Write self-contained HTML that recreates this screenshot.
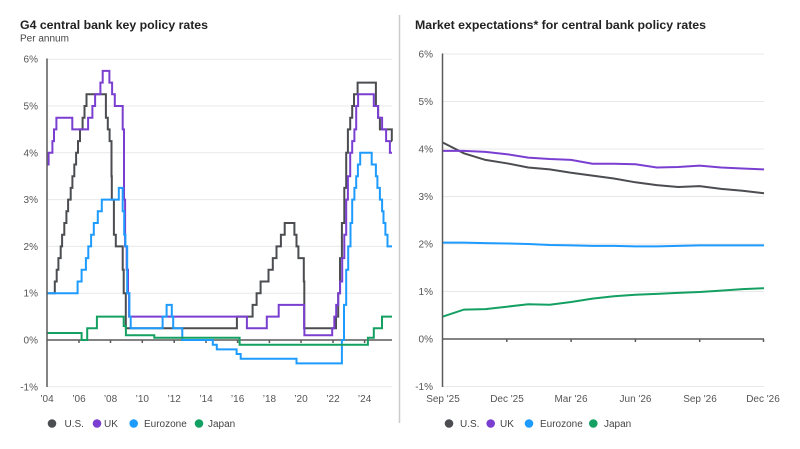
<!DOCTYPE html>
<html><head><meta charset="utf-8"><style>
html,body{margin:0;padding:0;background:#fff;}
svg{display:block;font-family:"Liberation Sans",Arial,sans-serif;}
.t{font-size:12.3px;font-weight:bold;fill:#222;}
.s{font-size:10px;fill:#444;}
.yl{font-size:10px;fill:#555;text-anchor:end;}
.xl{font-size:10px;fill:#555;text-anchor:middle;}
.lg{font-size:10px;fill:#444;}
.g{stroke:#e8e8e8;stroke-width:1;}
.ax{stroke:#5a5a5a;stroke-width:1.5;fill:none;}
.ln{fill:none;stroke-width:2;stroke-linejoin:miter;}
</style></head><body>
<svg width="800" height="449" viewBox="0 0 800 449" xmlns="http://www.w3.org/2000/svg">
<rect width="800" height="449" fill="#fff"/>
<!-- LEFT CHART -->
<text class="t" x="20" y="29" textLength="188" lengthAdjust="spacingAndGlyphs">G4 central bank key policy rates</text>
<text class="s" x="20" y="41.5">Per annum</text>
<g>
<line class="g" x1="47" y1="59.2" x2="392" y2="59.2"/>
<line class="g" x1="47" y1="106" x2="392" y2="106"/>
<line class="g" x1="47" y1="152.8" x2="392" y2="152.8"/>
<line class="g" x1="47" y1="199.6" x2="392" y2="199.6"/>
<line class="g" x1="47" y1="246.4" x2="392" y2="246.4"/>
<line class="g" x1="47" y1="293.2" x2="392" y2="293.2"/>
<line class="g" x1="47" y1="386.8" x2="392" y2="386.8"/>
</g>
<text class="yl" x="38" y="62.7">6%</text>
<text class="yl" x="38" y="109.5">5%</text>
<text class="yl" x="38" y="156.3">4%</text>
<text class="yl" x="38" y="203.1">3%</text>
<text class="yl" x="38" y="249.9">2%</text>
<text class="yl" x="38" y="296.7">1%</text>
<text class="yl" x="38" y="343.5">0%</text>
<text class="yl" x="38" y="390.3">-1%</text>
<line class="ax" x1="47" y1="340" x2="392" y2="340"/>
<g class="ax" stroke-width="1">
<line x1="79" y1="340" x2="79" y2="343"/><line x1="110.5" y1="340" x2="110.5" y2="343"/><line x1="142.3" y1="340" x2="142.3" y2="343"/><line x1="174.2" y1="340" x2="174.2" y2="343"/><line x1="206" y1="340" x2="206" y2="343"/><line x1="237.6" y1="340" x2="237.6" y2="343"/><line x1="269.4" y1="340" x2="269.4" y2="343"/><line x1="301" y1="340" x2="301" y2="343"/><line x1="333" y1="340" x2="333" y2="343"/><line x1="364.6" y1="340" x2="364.6" y2="343"/>
</g>
<path class="ln" stroke="#4b4d51" d="M47,293.2 H54.8 V281.5 H56.7 V269.8 H58.4 V258.1 H60.7 V246.4 H62.1 V234.7 H64.3 V223 H66.4 V211.3 H68.1 V199.6 H70.7 V187.9 H72.4 V176.2 H74.3 V164.5 H76.1 V152.8 H78 V141.1 H80 V129.4 H82.6 V117.7 H84.5 V106 H86.5 V94.3 H105.9 V117.7 H107.8 V129.4 H109.6 V141.1 H111.5 V176.2 H111.8 V199.6 H113.9 V234.7 H115.8 V246.4 H122.7 V269.8 H123.7 V293.2 H125.8 V328.3 H236.9 V316.6 H252.6 V304.9 H256.6 V293.2 H260.6 V281.5 H268.5 V269.8 H272.8 V258.1 H276.5 V246.4 H280.9 V234.7 H284.7 V223 H294.4 V234.7 H296.5 V246.4 H298.4 V258.1 H303.8 V281.5 H304.3 V328.3 H336 V316.6 H338.2 V293.2 H340 V258.1 H341.9 V223 H344.3 V187.9 H346.2 V152.8 H347.9 V129.4 H350.2 V117.7 H352.2 V106 H354 V94.3 H357.6 V82.6 H375.9 V106 H378.1 V117.7 H379.9 V129.4 H391.8 V141.1 H392"/>
<path class="ln" stroke="#7a3fd1" d="M47,164.5 H48.6 V152.8 H52.4 V141.1 H54 V129.4 H56.4 V117.7 H72.3 V129.4 H88.1 V117.7 H92.4 V106 H95.1 V94.3 H100.4 V82.6 H102.7 V70.9 H109.4 V82.6 H112.1 V94.3 H114.8 V106 H122.7 V129.4 H124 V199.6 H125.1 V246.4 H126.7 V269.8 H128 V293.2 H129.1 V316.6 H246.9 V328.3 H266.8 V316.6 H278.7 V304.9 H304.1 V328.3 H304.4 V335.3 H332.2 V328.3 H334.3 V316.6 H336.2 V304.9 H338.2 V293.2 H340.1 V281.5 H342.2 V258.1 H344.3 V234.7 H346.2 V199.6 H347.9 V176.2 H350.2 V152.8 H352.2 V141.1 H354.4 V129.4 H356.2 V106 H358.1 V94.3 H373.8 V106 H378.1 V117.7 H382.1 V129.4 H386.1 V141.1 H389.9 V152.8 H392"/>
<path class="ln" stroke="#1e9bff" d="M47,293.2 H77.6 V281.5 H81.6 V269.8 H85.9 V258.1 H88.3 V246.4 H91.1 V234.7 H93.8 V223 H97.8 V211.3 H101.8 V199.6 H118.8 V187.9 H122.7 V211.3 H124.2 V234.7 H125.4 V246.4 H127.2 V293.2 H129.4 V316.6 H130.7 V328.3 H162.6 V316.6 H166.6 V304.9 H171.8 V316.6 H173.2 V328.3 H182.3 V340 H212.8 V344.7 H216.8 V349.4 H236.6 V354 H240.7 V358.7 H296.5 V363.4 H341.9 V340 H344 V304.9 H346.2 V269.8 H348.2 V246.4 H350.5 V223 H352.2 V199.6 H354.4 V187.9 H356.2 V176.2 H357.9 V164.5 H360.2 V152.8 H371.7 V164.5 H375.9 V176.2 H377.4 V187.9 H379.9 V199.6 H382.1 V211.3 H383.5 V223 H385.4 V234.7 H387.5 V246.4 H392"/>
<path class="ln" stroke="#14a062" d="M47,333 H81.6 V340 H87.2 V328.3 H96.9 V316.6 H123.7 V326 H125.9 V335.3 H154.3 V337.7 H239.6 V344.7 H367.9 V337.7 H373.8 V328.3 H382 V316.6 H392"/>
<line class="ax" x1="47" y1="58.5" x2="47" y2="387"/>
<text class="xl" x="47" y="402">’04</text>
<text class="xl" x="79" y="402">’06</text>
<text class="xl" x="110.5" y="402">’08</text>
<text class="xl" x="142.3" y="402">’10</text>
<text class="xl" x="174.2" y="402">’12</text>
<text class="xl" x="206" y="402">’14</text>
<text class="xl" x="237.6" y="402">’16</text>
<text class="xl" x="269.4" y="402">’18</text>
<text class="xl" x="301" y="402">’20</text>
<text class="xl" x="333" y="402">’22</text>
<text class="xl" x="364.6" y="402">’24</text>
<circle cx="52" cy="423.5" r="4.3" fill="#4b4d51"/><text class="lg" x="64.5" y="427">U.S.</text>
<circle cx="97" cy="423.5" r="4.3" fill="#7a3fd1"/><text class="lg" x="104" y="427">UK</text>
<circle cx="133.7" cy="423.5" r="4.3" fill="#1e9bff"/><text class="lg" x="144" y="427">Eurozone</text>
<circle cx="199" cy="423.5" r="4.3" fill="#14a062"/><text class="lg" x="208" y="427">Japan</text>
<!-- separator -->
<line x1="399.5" y1="15" x2="399.5" y2="423" stroke="#cccccc" stroke-width="1.5"/>
<!-- RIGHT CHART -->
<text class="t" x="415" y="29" textLength="291" lengthAdjust="spacingAndGlyphs">Market expectations* for central bank policy rates</text>
<g>
<line class="g" x1="442" y1="54" x2="764" y2="54"/>
<line class="g" x1="442" y1="101.5" x2="764" y2="101.5"/>
<line class="g" x1="442" y1="149" x2="764" y2="149"/>
<line class="g" x1="442" y1="196.5" x2="764" y2="196.5"/>
<line class="g" x1="442" y1="244" x2="764" y2="244"/>
<line class="g" x1="442" y1="291.5" x2="764" y2="291.5"/>
<line class="g" x1="442" y1="386.5" x2="764" y2="386.5"/>
</g>
<text class="yl" x="433" y="57.5">6%</text>
<text class="yl" x="433" y="105">5%</text>
<text class="yl" x="433" y="152.5">4%</text>
<text class="yl" x="433" y="200">3%</text>
<text class="yl" x="433" y="247.5">2%</text>
<text class="yl" x="433" y="295">1%</text>
<text class="yl" x="433" y="342.5">0%</text>
<text class="yl" x="433" y="390">-1%</text>
<line class="ax" x1="442" y1="339" x2="764" y2="339"/>
<g class="ax" stroke-width="1">
<line x1="506.8" y1="339" x2="506.8" y2="342"/><line x1="571.1" y1="339" x2="571.1" y2="342"/><line x1="635.4" y1="339" x2="635.4" y2="342"/><line x1="699.7" y1="339" x2="699.7" y2="342"/><line x1="763.5" y1="339" x2="763.5" y2="342"/>
</g>
<polyline class="ln" stroke="#4b4d51" points="442.5,142.4 463.9,153.3 485.4,159.9 506.8,163.3 528.2,167.5 549.7,169.4 571.1,172.8 592.5,175.6 613.9,178.5 635.4,182.3 656.8,185.1 678.2,187 699.7,186.1 721.1,188.9 742.5,190.8 764,193.2"/>
<polyline class="ln" stroke="#7a3fd1" points="442.5,150.9 463.9,150.9 485.4,151.9 506.8,154.2 528.2,157.6 549.7,159 571.1,159.9 592.5,163.7 613.9,163.7 635.4,164.2 656.8,167.5 678.2,167 699.7,165.6 721.1,167.5 742.5,168.5 764,169.4"/>
<polyline class="ln" stroke="#1e9bff" points="442.5,242.6 463.9,242.6 485.4,243.1 506.8,243.5 528.2,244 549.7,245 571.1,245.4 592.5,245.9 613.9,245.9 635.4,246.4 656.8,246.4 678.2,245.9 699.7,245.4 721.1,245.4 742.5,245.4 764,245.4"/>
<polyline class="ln" stroke="#14a062" points="442.5,316.7 463.9,309.6 485.4,309.1 506.8,306.7 528.2,304.3 549.7,304.8 571.1,302 592.5,298.6 613.9,296.3 635.4,294.8 656.8,293.9 678.2,292.9 699.7,292 721.1,290.6 742.5,289.1 764,288.2"/>
<line class="ax" x1="442.5" y1="53.5" x2="442.5" y2="387"/>
<text class="xl" x="443" y="402">Sep '25</text>
<text class="xl" x="507" y="402">Dec '25</text>
<text class="xl" x="571" y="402">Mar '26</text>
<text class="xl" x="635.5" y="402">Jun '26</text>
<text class="xl" x="700" y="402">Sep '26</text>
<text class="xl" x="763" y="402">Dec '26</text>
<circle cx="449" cy="423.5" r="4.3" fill="#4b4d51"/><text class="lg" x="460" y="427">U.S.</text>
<circle cx="490.7" cy="423.5" r="4.3" fill="#7a3fd1"/><text class="lg" x="500" y="427">UK</text>
<circle cx="529" cy="423.5" r="4.3" fill="#1e9bff"/><text class="lg" x="540" y="427">Eurozone</text>
<circle cx="593.3" cy="423.5" r="4.3" fill="#14a062"/><text class="lg" x="604" y="427">Japan</text>
</svg>
</body></html>
